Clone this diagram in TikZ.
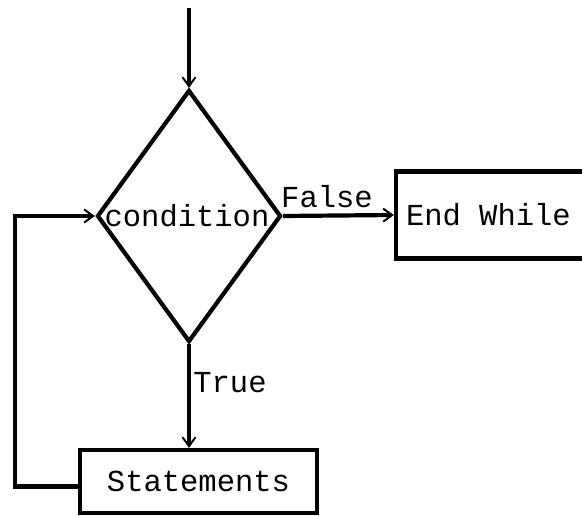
\documentclass[tikz,border=0pt]{standalone}
\usepackage{fontspec}
\setmonofont{Liberation Mono}
\usetikzlibrary{shapes.geometric,arrows.meta}
\begin{document}
\begin{tikzpicture}[x=1pt,y=-1pt,
  every node/.style={font=\ttfamily\fontsize{30.5}{32}\selectfont},
  flow/.style={line width=4.2pt,-{Straight Barb[length=9pt,width=13pt,line width=2pt]}},
  box/.style={draw,line width=4.2pt,rectangle,inner sep=0pt},
  lbl/.style={inner sep=0pt}]
\useasboundingbox (0,0) rectangle (582,516);
\node[draw,diamond,line width=4.2pt,minimum width=184pt,minimum height=252pt,inner sep=0pt] (cond) at (189,216) {};
\node[lbl] (condlbl) at (187,216) {condition};
\node[box,minimum width=216pt,minimum height=87pt,text width=196pt,align=left] (endw) at (504,215) {End\makebox[0.6em]{}While};
\node[box,minimum width=237pt,minimum height=63pt] (stmt) at (198.5,481.5) {Statements};
\coordinate (start) at (189,8);
\coordinate (loopc) at (15,350);
\node[lbl] (flbl) at (327,197) {False};
\node[lbl] (tlbl) at (230,383) {True};
\draw[flow] (start) -- (cond.north);
\draw[flow] (cond.east) -- (endw.west);
\draw[flow] (cond.south) -- (cond.south |- stmt.north);
\draw[flow] ([yshift=-5pt]stmt.west) -| (loopc) |- (cond.west);
\end{tikzpicture}
\end{document}
